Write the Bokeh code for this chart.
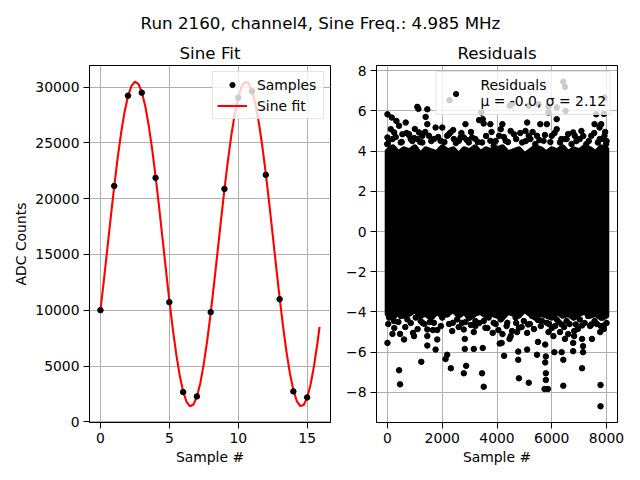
from bokeh.plotting import figure
from bokeh.models import Range1d, Label, Legend, LegendItem, FixedTicker
from bokeh.layouts import column, row
from bokeh.embed import file_html
from bokeh.resources import INLINE

FONT = "DejaVu Sans"

# ---------------- data ----------------
suptitle = "Run 2160, channel4, Sine Freq.: 4.985 MHz"
left_title = "Sine Fit"
right_title = "Residuals"

sample_idx = [0, 1, 2, 3, 4, 5, 6, 7, 8, 9, 10, 11, 12, 13, 14, 15]
sample_adc = [10009, 21150, 29236, 29505, 21868, 10727, 2668, 2282,
              9829, 20880, 29057, 29622, 22138, 10997, 2731, 2192]

fit_x = [0.0, 0.25, 0.5, 0.75, 1.0, 1.25, 1.5, 1.75, 2.0, 2.25, 2.5, 2.75,
         3.0, 3.25, 3.5, 3.75, 4.0, 4.25, 4.5, 4.75, 5.0, 5.25, 5.5, 5.75,
         6.0, 6.25, 6.5, 6.75, 7.0, 7.25, 7.5, 7.75, 8.0, 8.25, 8.5, 8.75,
         9.0, 9.25, 9.5, 9.75, 10.0, 10.25, 10.5, 10.75, 11.0, 11.25, 11.5,
         11.75, 12.0, 12.25, 12.5, 12.75, 13.0, 13.25, 13.5, 13.75, 14.0,
         14.25, 14.5, 14.75, 15.0, 15.25, 15.5, 15.75, 15.9]
fit_adc = [10003, 12701, 15523, 18361, 21107, 23654, 25910, 27780, 29201,
           30112, 30485, 30301, 29568, 28316, 26589, 24456, 21998, 19308,
           16490, 13650, 10898, 8338, 6069, 4176, 2733, 1795, 1396, 1553,
           2260, 3489, 5194, 7309, 9753, 12434, 15249, 18090, 20849, 23420,
           25706, 27618, 29084, 30048, 30473, 30343, 29663, 28458, 26775,
           24678, 22247, 19575, 16764, 13922, 11156, 8574, 6272, 4340, 2851,
           1862, 1410, 1514, 2168, 3349, 5010, 7089, 8504]

left_xticks = [0, 5, 10, 15]
left_yticks = [0, 5000, 10000, 15000, 20000, 25000, 30000]
right_xticks = [0, 2000, 4000, 6000, 8000]
right_yticks = [-8, -6, -4, -2, 0, 2, 4, 6, 8]

# dense core of the residual cloud (edges of the fully black band)
env_x = [0, 200, 400, 600, 800, 1000, 1200, 1400, 1600, 1800, 2000, 2200,
         2400, 2600, 2800, 3000, 3200, 3400, 3600, 3800, 4000, 4200, 4400,
         4600, 4800, 5000, 5200, 5400, 5600, 5800, 6000, 6200, 6400, 6600,
         6800, 7000, 7200, 7400, 7600, 7800, 8000]
env_hi = [4.0, 4.2, 3.9, 4.1, 4.0, 4.2, 3.8, 4.1, 4.0, 3.9, 4.2, 4.0, 4.1,
          3.8, 4.1, 4.0, 4.2, 3.9, 4.1, 4.0, 4.1, 4.2, 3.9, 4.0, 4.1, 3.8,
          4.0, 4.2, 4.1, 3.9, 4.1, 4.0, 4.2, 3.9, 4.1, 4.0, 4.2, 4.1, 3.9,
          4.2, 4.1]
env_lo = [-4.1, -4.3, -4.0, -4.2, -4.1, -3.9, -4.2, -4.1, -4.3, -4.0, -4.2,
          -4.1, -3.9, -4.2, -4.0, -4.3, -4.1, -4.0, -4.2, -4.1, -4.2, -4.3,
          -4.0, -4.1, -4.2, -3.9, -4.1, -4.3, -4.1, -4.2, -4.3, -4.0, -4.2,
          -4.1, -4.3, -4.1, -4.0, -4.2, -4.1, -4.3, -4.2]

# individually visible residual points outside the dense core
res_x = [
    # upper side
    1091, 1130, 1455, 0, 158, 327, 424, 667, 121, 242, 545, 788, 1152, 1455,
    1394, 1758, 2000, 2303, 2848, 3430, 3479, 3515, 2667, 0, 0, 848, 1273,
    3091, 3758, 2267, 3346,
    6421, 6481, 4461, 4558, 5160, 5520, 5880, 6180, 6505, 5880, 7924, 7624,
    7900, 4197, 4137, 4498, 5100, 5580, 5820, 6180, 6180, 5460, 5160, 6781,
    7082, 7563, 7744, 7804, 7864, 6841, 5040, 6541,
    0, 182, 485, 788, 909, 1091, 1273, 1515, 1697, 1939, 2182, 2424, 2606,
    2788, 2970, 3212, 3455, 3758, 3879,
    4077, 4317, 4618, 4918, 5220, 5400, 5700, 6000, 6300, 6481, 6722, 7022,
    7263, 7443, 7684, 7924, 7984,
    60, 300, 520, 700, 980, 1200, 1380, 1600, 1850, 2080, 2250, 2500, 2700,
    2900, 3050, 3300, 3600, 3950, 4250, 4400, 4700, 4850, 5050, 5300, 5550,
    5750, 5950, 6100, 6350, 6600, 6900, 7150, 7350, 7550, 7750, 7950, 8000,
    3800, 2400, 1000,
    # lower side
    0, 182, 460, 606, 424, 460, 933, 970, 1236, 1273, 1455, 1455, 1455, 1661,
    1818, 1818, 1758, 2121, 2182, 2315, 2364, 2388, 2788, 2824, 2824, 2788,
    2873, 3152, 3152, 3212, 3455, 3479, 3515, 3515, 3576, 3842,
    4260, 4776, 4776, 4800, 5100, 5160, 5460, 5496, 5760, 5784, 5760, 5784,
    5784, 5736, 5856, 6096, 6361, 6421, 6421, 6481, 6781, 6781, 6817, 7106,
    7142, 7142, 7106, 7467, 7443, 7768, 7780, 7780, 7912, 7792, 4170, 4100,
    4457, 4733, 4800, 5100, 5136, 5496, 5820, 5880, 6060, 6120, 6361, 6877,
    7106, 6817,
    61, 242, 485, 727, 1030, 1212, 1515, 1697, 2000, 2182, 2545, 2727, 2970,
    3212, 3697, 3879,
    4137, 4377, 4678, 4978, 5280, 5640, 6180, 6541, 7022, 7323, 7563, 7864,
    30, 250, 400, 650, 850, 1100, 1350, 1550, 1950, 2250, 2600, 2850, 3050,
    3350, 3650, 3950, 4050, 4350, 4550, 4700, 4900, 5200, 5350, 5600, 5900,
    6000, 6250, 6450, 6650, 6950, 7200, 7400, 7650, 7900, 8000, 4200, 4500,
    6300, 6600,
]
res_y = [
    6.2, 6.1, 6.08, 5.83, 5.67, 5.5, 5.26, 5.42, 5.09, 4.93, 4.84, 4.84, 4.93,
    5.34, 5.7, 5.17, 5.17, 4.93, 5.34, 5.92, 5.59, 5.37, 4.68, 4.68, 4.35,
    4.6, 4.76, 4.68, 5.34, 6.53, 5.54,
    7.45, 7.19, 6.25, 6.36, 6.25, 6.33, 6.2, 6.17, 6.0, 5.92, 6.66, 5.83,
    5.85, 5.34, 5.09, 5.0, 5.42, 5.34, 5.34, 5.59, 5.09, 4.76, 4.76, 4.93,
    5.0, 5.34, 5.17, 5.34, 4.6, 4.76, 5.0, 4.6,
    4.35, 4.6, 4.43, 4.8, 4.5, 4.6, 4.43, 4.76, 4.6, 4.51, 4.76, 4.6, 4.51,
    4.68, 4.43, 4.6, 4.43, 4.51, 4.26,
    4.76, 4.51, 4.84, 4.43, 4.6, 4.35, 4.51, 4.76, 4.43, 4.6, 4.35, 4.6,
    4.35, 4.76, 4.43, 4.76, 4.35,
    4.55, 4.7, 4.45, 4.9, 4.65, 4.45, 4.95, 4.5, 4.7, 4.45, 4.85, 4.4, 4.9,
    4.55, 4.95, 4.45, 4.75, 4.5, 4.7, 4.45, 4.6, 4.9, 4.5, 4.95, 4.55, 4.8,
    4.45, 4.9, 4.6, 4.85, 4.5, 4.75, 4.5, 4.9, 4.6, 4.95, 4.5,
    4.95, 5.05, 5.1,
    -5.54, -5.09, -5.09, -5.37, -6.9, -7.6, -5.04, -5.2, -6.48, -4.54, -4.87,
    -5.2, -5.67, -4.9, -4.9, -5.37, -5.87, -6.34, -6.13, -6.8, -4.95, -4.54,
    -4.87, -5.34, -5.84, -7.05, -6.68, -5.84, -5.0, -4.7, -7.05, -5.79,
    -7.72, -4.45, -4.79, -5.04,
    -6.18, -5.97, -6.38, -7.3, -5.87, -7.52, -6.13, -5.49, -5.62, -6.21,
    -6.51, -7.05, -7.38, -7.83, -7.83, -6.0, -6.0, -6.38, -7.67, -5.34,
    -5.95, -5.54, -4.95, -6.8, -6.0, -5.7, -5.34, -5.34, -4.62, -5.0, -7.63,
    -8.69, -4.67, -4.7, -5.54, -5.57, -5.34, -5.0, -4.79, -5.04, -4.62,
    -4.4, -4.54, -5.0, -5.2, -4.7, -4.62, -4.62, -4.67, -5.2,
    -4.28, -4.45, -4.2, -4.37, -4.28, -4.45, -4.2, -4.54, -4.28, -4.12,
    -4.37, -4.54, -4.28, -4.45, -4.28, -4.54,
    -4.37, -4.54, -4.28, -4.45, -4.2, -4.45, -4.37, -4.45, -4.37, -4.2,
    -4.45, -4.28,
    -4.6, -4.8, -4.5, -4.75, -4.55, -4.85, -4.6, -4.5, -4.7, -4.6, -4.75,
    -4.5, -4.65, -4.55, -4.8, -4.6, -4.9, -4.7, -4.95, -4.55, -4.75, -4.6,
    -4.85, -4.7, -4.6, -4.8, -4.5, -4.75, -4.6, -4.85, -4.55, -4.7, -4.6,
    -4.85, -4.55, -5.1, -5.2, -5.0, -5.1,
]
res_mean = -0.0
res_std = 2.12


def padded(lo, hi, frac=0.05):
    d = (hi - lo) * frac
    return Range1d(lo - d, hi + d)


def style(p, title, xticks, yticks, xlabel, ylabel=None, yoverrides=None):
    p.title.text = title
    p.title.align = "center"
    p.title.vertical_align = "bottom"
    p.title.text_font = FONT
    p.title.text_font_size = "16.7px"
    p.title.text_font_style = "normal"
    p.title.text_color = "black"
    p.title.standoff = 5
    p.title.offset = 0
    p.outline_line_color = "black"
    p.outline_line_width = 1
    p.background_fill_color = "white"
    p.border_fill_color = "white"
    p.xaxis.ticker = FixedTicker(ticks=xticks)
    p.yaxis.ticker = FixedTicker(ticks=yticks)
    for ax in (p.xaxis[0], p.yaxis[0]):
        ax.axis_line_color = "black"
        ax.axis_line_width = 1
        ax.major_tick_line_color = "black"
        ax.major_tick_line_width = 1
        ax.major_tick_out = 6
        ax.major_tick_in = 0
        ax.minor_tick_line_color = None
        ax.major_label_standoff = 4
        ax.major_label_text_font = FONT
        ax.major_label_text_font_size = "13.9px"
        ax.major_label_text_color = "black"
        ax.axis_label_text_font = FONT
        ax.axis_label_text_font_size = "13.9px"
        ax.axis_label_text_font_style = "normal"
        ax.axis_label_text_color = "black"
        ax.axis_label_standoff = 3
    p.xaxis.axis_label = xlabel
    if ylabel:
        p.yaxis.axis_label = ylabel
    p.yaxis.major_label_orientation = "horizontal"
    if yoverrides:
        p.yaxis.major_label_overrides = yoverrides
    p.xgrid.ticker = FixedTicker(ticks=xticks)
    p.ygrid.ticker = FixedTicker(ticks=yticks)
    for g in (p.xgrid[0], p.ygrid[0]):
        g.grid_line_color = "#b0b0b0"
        g.grid_line_width = 1


def style_legend(lg, label_width):
    lg.location = "top_right"
    lg.margin = 6
    lg.padding = 4
    lg.spacing = 4
    lg.glyph_width = 30
    lg.glyph_height = 13
    lg.label_height = 17
    lg.label_width = label_width
    lg.label_standoff = 10
    lg.label_text_font = FONT
    lg.label_text_font_size = "13.9px"
    lg.label_text_color = "black"
    lg.border_line_color = "#cccccc"
    lg.border_line_width = 1
    lg.background_fill_color = "white"
    lg.background_fill_alpha = 0.8


# ---------------- header (suptitle) ----------------
head = figure(width=640, height=32, output_backend="svg", toolbar_location=None,
              x_axis_type=None, y_axis_type=None,
              x_range=Range1d(0, 640), y_range=Range1d(0, 32),
              min_border_left=0, min_border_right=0, min_border_top=0,
              min_border_bottom=0)
head.outline_line_color = None
head.background_fill_color = "white"
head.border_fill_color = "white"
head.add_layout(Label(x=320, y=9.3, text=suptitle, text_align="center",
                      text_baseline="alphabetic", text_font=FONT,
                      text_font_size="16.7px", text_color="black"))

# ---------------- left panel: sine fit ----------------
p1 = figure(width=340, height=448, output_backend="svg", toolbar_location=None,
            x_range=padded(min(fit_x), max(fit_x)),
            y_range=padded(min(min(fit_adc), min(sample_adc)),
                           max(max(fit_adc), max(sample_adc))),
            min_border_left=89, min_border_right=10, min_border_top=33,
            min_border_bottom=58)
style(p1, left_title, left_xticks, left_yticks, "Sample #", "ADC Counts")
r_fit = p1.line(fit_x, fit_adc, line_color="#ff0000", line_width=2.1)
r_samp = p1.scatter(sample_idx, sample_adc, size=5.5, fill_color="black",
                    line_color="black")
lg1 = Legend(items=[LegendItem(label="Samples", renderers=[r_samp]),
                    LegendItem(label="Sine fit", renderers=[r_fit])])
style_legend(lg1, 62)
p1.add_layout(lg1)

# ---------------- right panel: residuals ----------------
all_res = res_y + env_hi + env_lo
p2 = figure(width=300, height=448, output_backend="svg", toolbar_location=None,
            x_range=padded(min(env_x), max(env_x)),
            y_range=padded(min(all_res), max(all_res)),
            min_border_left=36, min_border_right=23, min_border_top=33,
            min_border_bottom=58)
yover = {v: (str(v).replace("-", "\u2212")) for v in right_yticks}
style(p2, right_title, right_xticks, right_yticks, "Sample #", None, yover)
core_x = env_x + env_x[::-1]
core_y = env_hi + env_lo[::-1]
p2.patch(core_x, core_y, fill_color="black", line_color="black",
         line_width=5.5, line_join="round")
r_res = p2.scatter(res_x, res_y, size=5.5, fill_color="black",
                   line_color="black")
lab = "Residuals\n\u03bc = %.1f, \u03c3 = %.2f" % (res_mean, res_std)
lg2 = Legend(items=[LegendItem(label=lab, renderers=[r_res])])
style_legend(lg2, 62)
lg2.label_height = 34
p2.add_layout(lg2)

layout = column(head, row(p1, p2))
open("out.html", "w").write(file_html(layout, INLINE))
